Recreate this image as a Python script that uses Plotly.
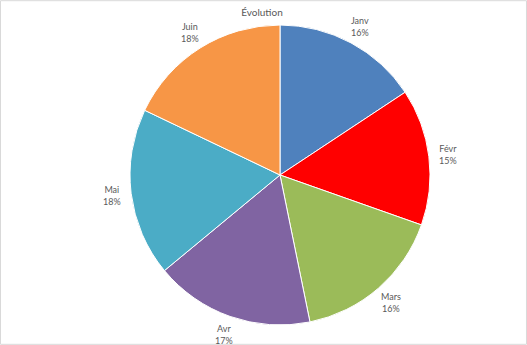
import numpy as np
import plotly.graph_objects as go

months = ["Janv", "Févr", "Mars", "Avr", "Mai", "Juin"]
values = [15.7, 14.7, 16.4, 17.2, 18.1, 17.9]
colors = ["#4F81BD", "#FF0000", "#9BBB59", "#8064A2", "#4BACC6", "#F79646"]

W, H = 527, 345
cx, cy, r = 280, 175, 150
r_label = 169

fig = go.Figure(go.Pie(
    labels=months,
    values=values,
    sort=False,
    direction="clockwise",
    rotation=0,
    marker=dict(colors=colors, line=dict(color="white", width=1)),
    textinfo="none",
    hoverinfo="label+percent",
    showlegend=False,
    domain=dict(x=[(cx - r) / W, (cx + r) / W], y=[(H - cy - r) / H, (H - cy + r) / H]),
))

# data labels placed outside each slice at its mid-angle (computed from values)
vals = np.array(values, dtype=float)
frac = vals / vals.sum()
mid = (np.cumsum(frac) - frac / 2) * 2 * np.pi
annotations = []
for lab, f, a in zip(months, frac, mid):
    px = cx + r_label * np.sin(a)
    py = cy - r_label * np.cos(a)
    annotations.append(dict(
        x=px / W, y=1 - py / H, xref="paper", yref="paper",
        text=f"{lab}<br>{round(f * 100):.0f}%", showarrow=False,
        xanchor="center", yanchor="middle", align="center",
        font=dict(family="Lato", size=9, color="#595959"),
    ))

fig.update_layout(
    width=W, height=H,
    margin=dict(l=0, r=0, t=0, b=0),
    paper_bgcolor="white",
    title=dict(text="Évolution", x=262 / W, xanchor="center", y=1 - 12 / H, yanchor="middle",
               font=dict(family="Lato", size=10, color="#595959")),
    annotations=annotations,
    shapes=[dict(type="rect", xref="paper", yref="paper", x0=0.001, x1=0.999, y0=0.002, y1=0.998,
                 line=dict(color="#D9D9D9", width=1))],
)

fig.write_html("out.html")
